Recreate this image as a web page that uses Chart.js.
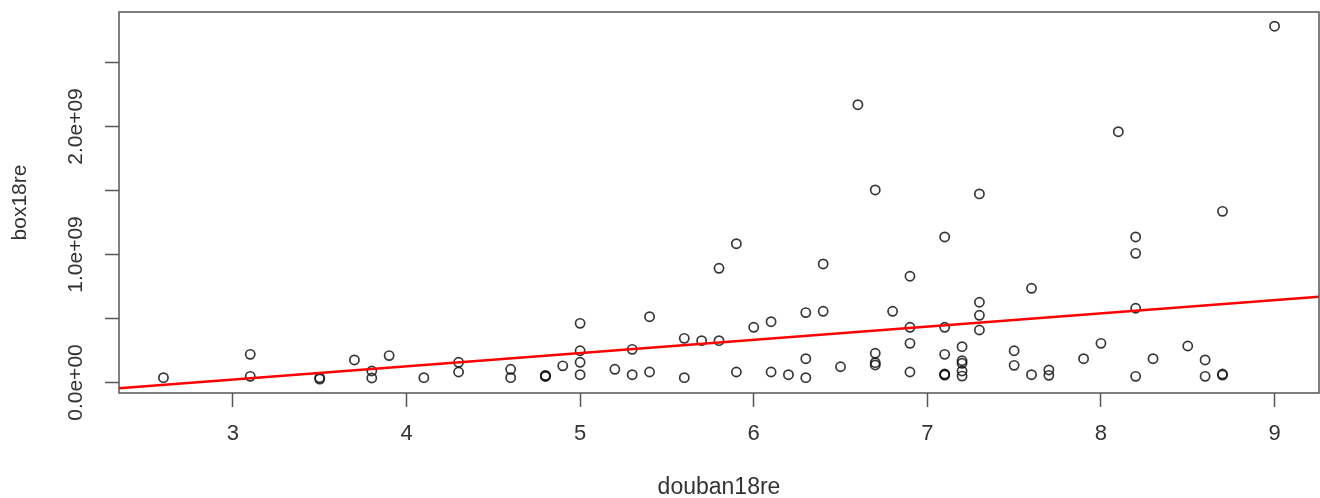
<!DOCTYPE html>
<html>
<head>
<meta charset="utf-8">
<script src="https://cdn.jsdelivr.net/npm/chart.js@4.4.1/dist/chart.umd.min.js"></script>
<style>
  html, body { margin: 0; padding: 0; background: #ffffff; }
  #c { display: block; }
</style>
</head>
<body>
<canvas id="c" width="1320" height="498"></canvas>
<script>
// ---- data ----
const douban18re = [
  2.6, 3.1, 3.1, 3.5, 3.5, 3.7, 3.8, 3.8, 3.9, 4.1,
  4.3, 4.3, 4.6, 4.6, 4.8, 4.8, 4.8, 4.9, 5.0, 5.0,
  5.0, 5.0, 5.2, 5.3, 5.3, 5.4, 5.4, 5.6, 5.6, 5.7,
  5.8, 5.8, 5.9, 5.9, 6.0, 6.1, 6.1, 6.2, 6.3, 6.3,
  6.3, 6.4, 6.4, 6.5, 6.6, 6.7, 6.7, 6.7, 6.7, 6.8,
  6.9, 6.9, 6.9, 6.9, 7.1, 7.1, 7.1, 7.1, 7.1, 7.1,
  7.2, 7.2, 7.2, 7.2, 7.2, 7.3, 7.3, 7.3, 7.3, 7.5,
  7.5, 7.6, 7.6, 7.7, 7.7, 7.9, 8.0, 8.1, 8.2, 8.2,
  8.2, 8.2, 8.3, 8.5, 8.6, 8.6, 8.7, 8.7, 8.7, 9.0
];
const box18re = [
  3.8e7, 2.20e8, 4.8e7, 3.7e7, 2.7e7, 1.76e8, 9.0e7, 3.5e7, 2.10e8, 3.8e7,
  1.58e8, 8.2e7, 1.03e8, 3.8e7, 5.2e7, 4.7e7, 5.5e7, 1.30e8, 4.62e8, 2.48e8,
  1.58e8, 6.1e7, 1.03e8, 2.59e8, 6.1e7, 5.14e8, 8.2e7, 3.45e8, 3.8e7, 3.27e8,
  3.27e8, 8.92e8, 1.084e9, 8.2e7, 4.31e8, 4.75e8, 8.2e7, 6.1e7, 5.46e8, 1.86e8,
  3.8e7, 9.26e8, 5.56e8, 1.23e8, 2.17e9, 1.504e9, 2.28e8, 1.55e8, 1.37e8, 5.56e8,
  8.30e8, 4.31e8, 3.06e8, 8.2e7, 1.137e9, 4.31e8, 2.20e8, 6.6e7, 5.8e7, 6.2e7,
  2.80e8, 1.70e8, 1.50e8, 9.0e7, 5.0e7, 1.473e9, 6.27e8, 5.25e8, 4.10e8, 2.48e8,
  1.34e8, 7.36e8, 6.1e7, 9.8e7, 5.6e7, 1.86e8, 3.06e8, 1.959e9, 1.137e9, 1.009e9,
  5.80e8, 4.8e7, 1.86e8, 2.85e8, 1.76e8, 4.8e7, 1.337e9, 6.6e7, 5.8e7, 2.783e9
];
// fitted line (abline) endpoints at the plot edges
const regLineX = [2.344, 9.256];
const regLineY = [-4.5e7, 6.70e8];

// axis ranges and ticks
const xRange = [2.344, 9.256];
const yRange = [-8.2e7, 2.894e9];
const xTickVals = [3, 4, 5, 6, 7, 8, 9];
const yTickVals = [0, 5e8, 1e9, 1.5e9, 2e9, 2.5e9];
const yLabelVals = [0, 1e9, 2e9];
const yLabelText = ['0.0e+00', '1.0e+09', '2.0e+09'];
const xTitle = 'douban18re';
const yTitle = 'box18re';

const FONT = '"Liberation Sans", Arial, Helvetica, sans-serif';
const INK = '#333333';
const FRAME = '#555555';

const framePlugin = {
  id: 'frame',
  afterDraw(chart) {
    const ctx = chart.ctx;
    const a = chart.chartArea;
    ctx.save();
    ctx.strokeStyle = FRAME;
    ctx.lineWidth = 1.5;
    ctx.strokeRect(a.left, a.top, a.right - a.left, a.bottom - a.top);
    // rotated y tick labels (R style), placed by the y scale
    const ys = chart.scales.y;
    ctx.fillStyle = INK;
    ctx.font = '21px ' + FONT;
    ctx.textAlign = 'center';
    ctx.textBaseline = 'middle';
    yLabelVals.forEach((v, i) => {
      ctx.save();
      ctx.translate(76, ys.getPixelForValue(v));
      ctx.rotate(-Math.PI / 2);
      ctx.fillText(yLabelText[i], 0, 0);
      ctx.restore();
    });
    ctx.restore();
  }
};

new Chart(document.getElementById('c'), {
  type: 'scatter',
  data: {
    datasets: [
      {
        type: 'line',
        data: regLineX.map((x, i) => ({ x: x, y: regLineY[i] })),
        borderColor: '#ff0000',
        borderWidth: 2.5,
        pointRadius: 0,
        fill: false,
        tension: 0,
        order: 0
      },
      {
        data: douban18re.map((x, i) => ({ x: x, y: box18re[i] })),
        pointStyle: 'circle',
        pointRadius: 4.6,
        pointBorderWidth: 1.7,
        pointBorderColor: 'rgba(20,20,20,0.85)',
        pointBackgroundColor: 'rgba(0,0,0,0)',
        showLine: false,
        order: 1
      }
    ]
  },
  options: {
    responsive: false,
    animation: false,
    devicePixelRatio: 1,
    layout: { autoPadding: false, padding: { top: 12, right: 1, left: 0, bottom: 0 } },
    plugins: { legend: { display: false }, tooltip: { enabled: false } },
    scales: {
      x: {
        type: 'linear',
        min: xRange[0],
        max: xRange[1],
        afterBuildTicks: (s) => { s.ticks = xTickVals.map(v => ({ value: v })); },
        afterFit: (s) => { s.height = 105; s.paddingLeft = 0; s.paddingRight = 0; },
        grid: {
          display: true,
          drawOnChartArea: false,
          drawTicks: true,
          tickLength: 14,
          tickColor: FRAME,
          tickWidth: 1.5,
          color: FRAME
        },
        border: { display: false },
        ticks: {
          color: INK,
          font: { family: FONT, size: 22 },
          padding: 14,
          maxRotation: 0,
          autoSkip: false,
          callback: (v) => String(v)
        },
        title: {
          display: true,
          text: xTitle,
          color: INK,
          font: { family: FONT, size: 23 },
          padding: { top: 0, bottom: -3 }
        }
      },
      y: {
        type: 'linear',
        min: yRange[0],
        max: yRange[1],
        afterBuildTicks: (s) => { s.ticks = yTickVals.map(v => ({ value: v })); },
        afterFit: (s) => { s.width = 119; s.paddingTop = 0; s.paddingBottom = 0; },
        grid: {
          display: true,
          drawOnChartArea: false,
          drawTicks: true,
          tickLength: 14,
          tickColor: FRAME,
          tickWidth: 1.5,
          color: FRAME
        },
        border: { display: false },
        ticks: { display: false },
        title: {
          display: true,
          text: yTitle,
          color: INK,
          font: { family: FONT, size: 21 },
          padding: { top: 8, bottom: 0 }
        }
      }
    }
  },
  plugins: [framePlugin]
});
</script>
</body>
</html>
